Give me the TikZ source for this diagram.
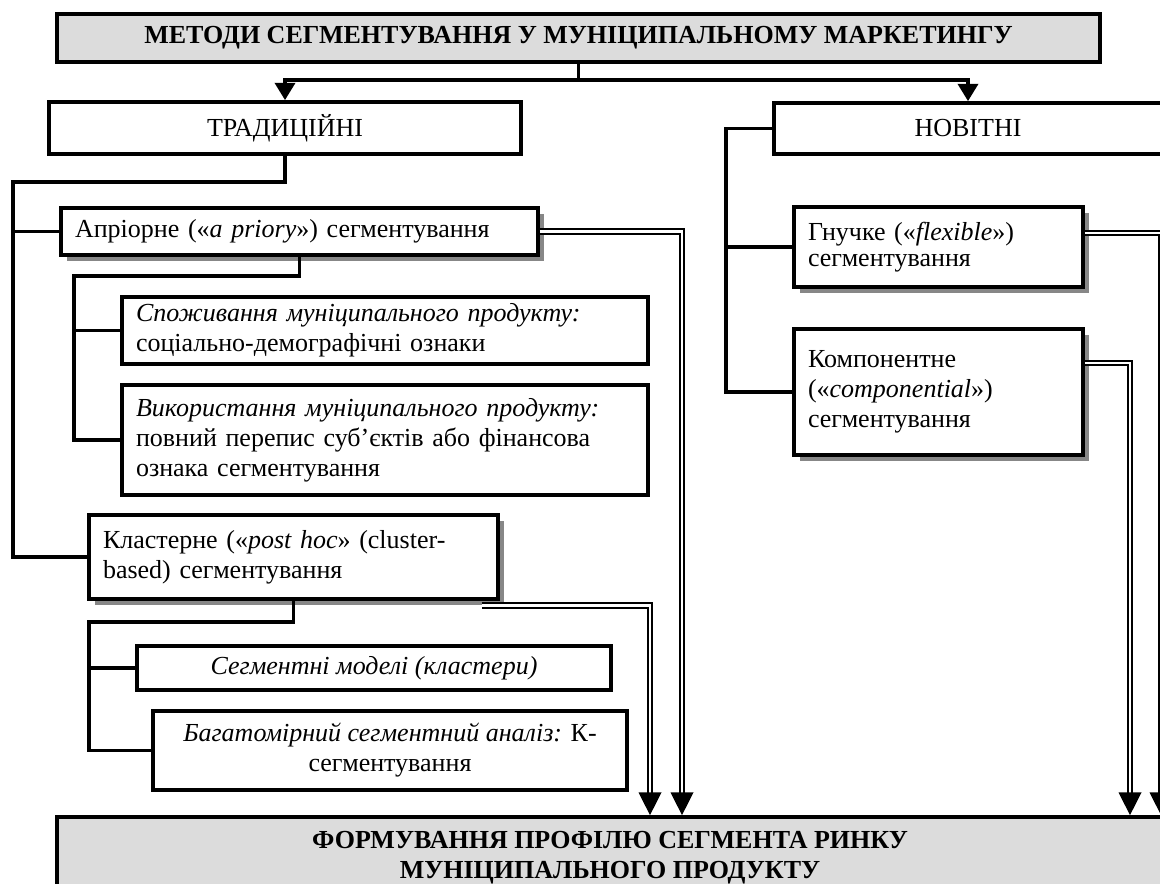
\documentclass[tikz,border=0pt]{standalone}
\usepackage{fontspec}
\setmainfont{Liberation Serif}
\usetikzlibrary{arrows.meta,shadows,calc}
\definecolor{panelgray}{RGB}{220,220,220}
\definecolor{shadowgray}{RGB}{135,135,135}

\begin{document}
\begin{tikzpicture}[x=0.75pt,y=-0.75pt,
  font=\fontsize{19.5}{22.5}\selectfont,
  box/.style={draw=black, line width=2.8pt, fill=white, inner sep=0pt},
  cbox/.style n args={2}{box, align=center, minimum width=#1, minimum height=#2},
  lbox/.style n args={2}{box, align=left, inner xsep=10.5pt, text width=#1, minimum height=#2},
  shadowed/.style={drop shadow={shadow xshift=4.5pt, shadow yshift=-4.5pt, fill=shadowgray, opacity=1}},
  conn/.style={line width=2.8pt, line join=miter},
  tipA/.style={-{Triangle[width=15pt,length=13pt]}, line width=2.8pt},
  dbl/.style={draw=black, double=white, line width=1.5pt, double distance=1.9pt, line join=miter},
  tipB/.style={-{Triangle[width=17pt,length=17pt]}, line width=1pt}]

\useasboundingbox (0,0) rectangle (1160,883);

% headings
\node[cbox={782.25pt}{36pt}, fill=panelgray] (top) at (578.5,38)
  {\textbf{МЕТОДИ СЕГМЕНТУВАННЯ У МУНІЦИПАЛЬНОМУ МАРКЕТИНГУ}};
\node[cbox={354pt}{39pt}] (trad) at (285,128) {ТРАДИЦІЙНІ};
\node[cbox={291pt}{38.25pt}] (nov) at (968,128.5) {НОВІТНІ};

% traditional branch
\node[lbox={336.75pt}{35.25pt}, shadowed] (apr) at (299.5,231.5)
  {Апріорне («\textit{a priory}») сегментування};
\node[lbox={373.5pt}{50.25pt}] (spoz) at (385,330.5)
  {\mbox{\textit{Споживання муніципального продукту:}}\\
   \mbox{соціально-демографічні ознаки}};
\node[lbox={373.5pt}{82.5pt}] (vyk) at (385,440)
  {\mbox{\textit{Використання муніципального продукту:}}\\
   \mbox{повний перепис суб’єктів або фінансова}\\
   \mbox{ознака сегментування}};
\node[lbox={285.75pt}{63pt}, shadowed] (klas) at (293.5,557)
  {\mbox{Кластерне («\textit{post hoc}» (cluster-}\\
   \mbox{based) сегментування}};
\node[cbox={355.5pt}{33pt}] (segm) at (374,668)
  {\textit{Сегментні моделі (кластери)}};
\node[cbox={355.5pt}{59.25pt}] (bagat) at (390,750.5)
  {\textit{Багатомірний сегментний аналіз:} К-\\сегментування};

% newest branch
\node[lbox={195.75pt}{60pt}, shadowed, font=\fontsize{19.5}{19}\selectfont] (gnu) at (938.5,247)
  {Гнучке («\textit{flexible}»)\\сегментування};
\node[lbox={195.75pt}{94.5pt}, shadowed] (komp) at (938.5,392)
  {Компонентне\\(«\textit{componential}»)\\сегментування};

% result
\node[cbox={829.5pt}{61.5pt}, fill=panelgray] (prof) at (610,858)
  {\textbf{ФОРМУВАННЯ ПРОФІЛЮ СЕГМЕНТА РИНКУ}\\\textbf{МУНІЦИПАЛЬНОГО ПРОДУКТУ}};

% tree connectors
\coordinate (split) at (578.5,80);
\coordinate (lt) at (13,182);
\coordinate (al) at (74,276);
\coordinate (kl) at (89,622);
\coordinate (nl) at (726,392);

\draw[conn] (top.south) -- (split);
\draw[conn,tipA] (split) -| (trad.north);
\draw[conn,tipA] (split) -| (nov.north);

\draw[conn] (trad.south) |- (lt) |- (klas.west);
\draw[conn] (apr.west -| lt) -- (apr.west);

\draw[conn] (apr.south) |- (al) |- (vyk.west);
\draw[conn] (spoz.west -| al) -- (spoz.west);

\draw[conn] (klas.south) |- (kl) |- (bagat.west);
\draw[conn] (segm.west -| kl) -- (segm.west);

\draw[conn] (nov.west) -| (nl) -- (komp.west);
\draw[conn] (gnu.west -| nl) -- (gnu.west);

% double flow lines into the result box
\coordinate (aA) at (682,796);
\coordinate (kA) at (650,796);
\coordinate (cA) at (1130,796);
\coordinate (gA) at (1161,796);

\draw[dbl] (apr.east) -| (aA);
\draw[dbl] ($(klas.south east)+(-18,4.5)$) -| (kA);
\draw[dbl] ($(gnu.north east)+(0,28)$) -| (gA);
\draw[dbl] ($(komp.north east)+(0,36)$) -| (cA);

\draw[tipB] (aA) -- (aA |- prof.north);
\draw[tipB] (kA) -- (kA |- prof.north);
\draw[tipB] (cA) -- (cA |- prof.north);
\draw[tipB] (gA) -- (gA |- prof.north);
\end{tikzpicture}
\end{document}
